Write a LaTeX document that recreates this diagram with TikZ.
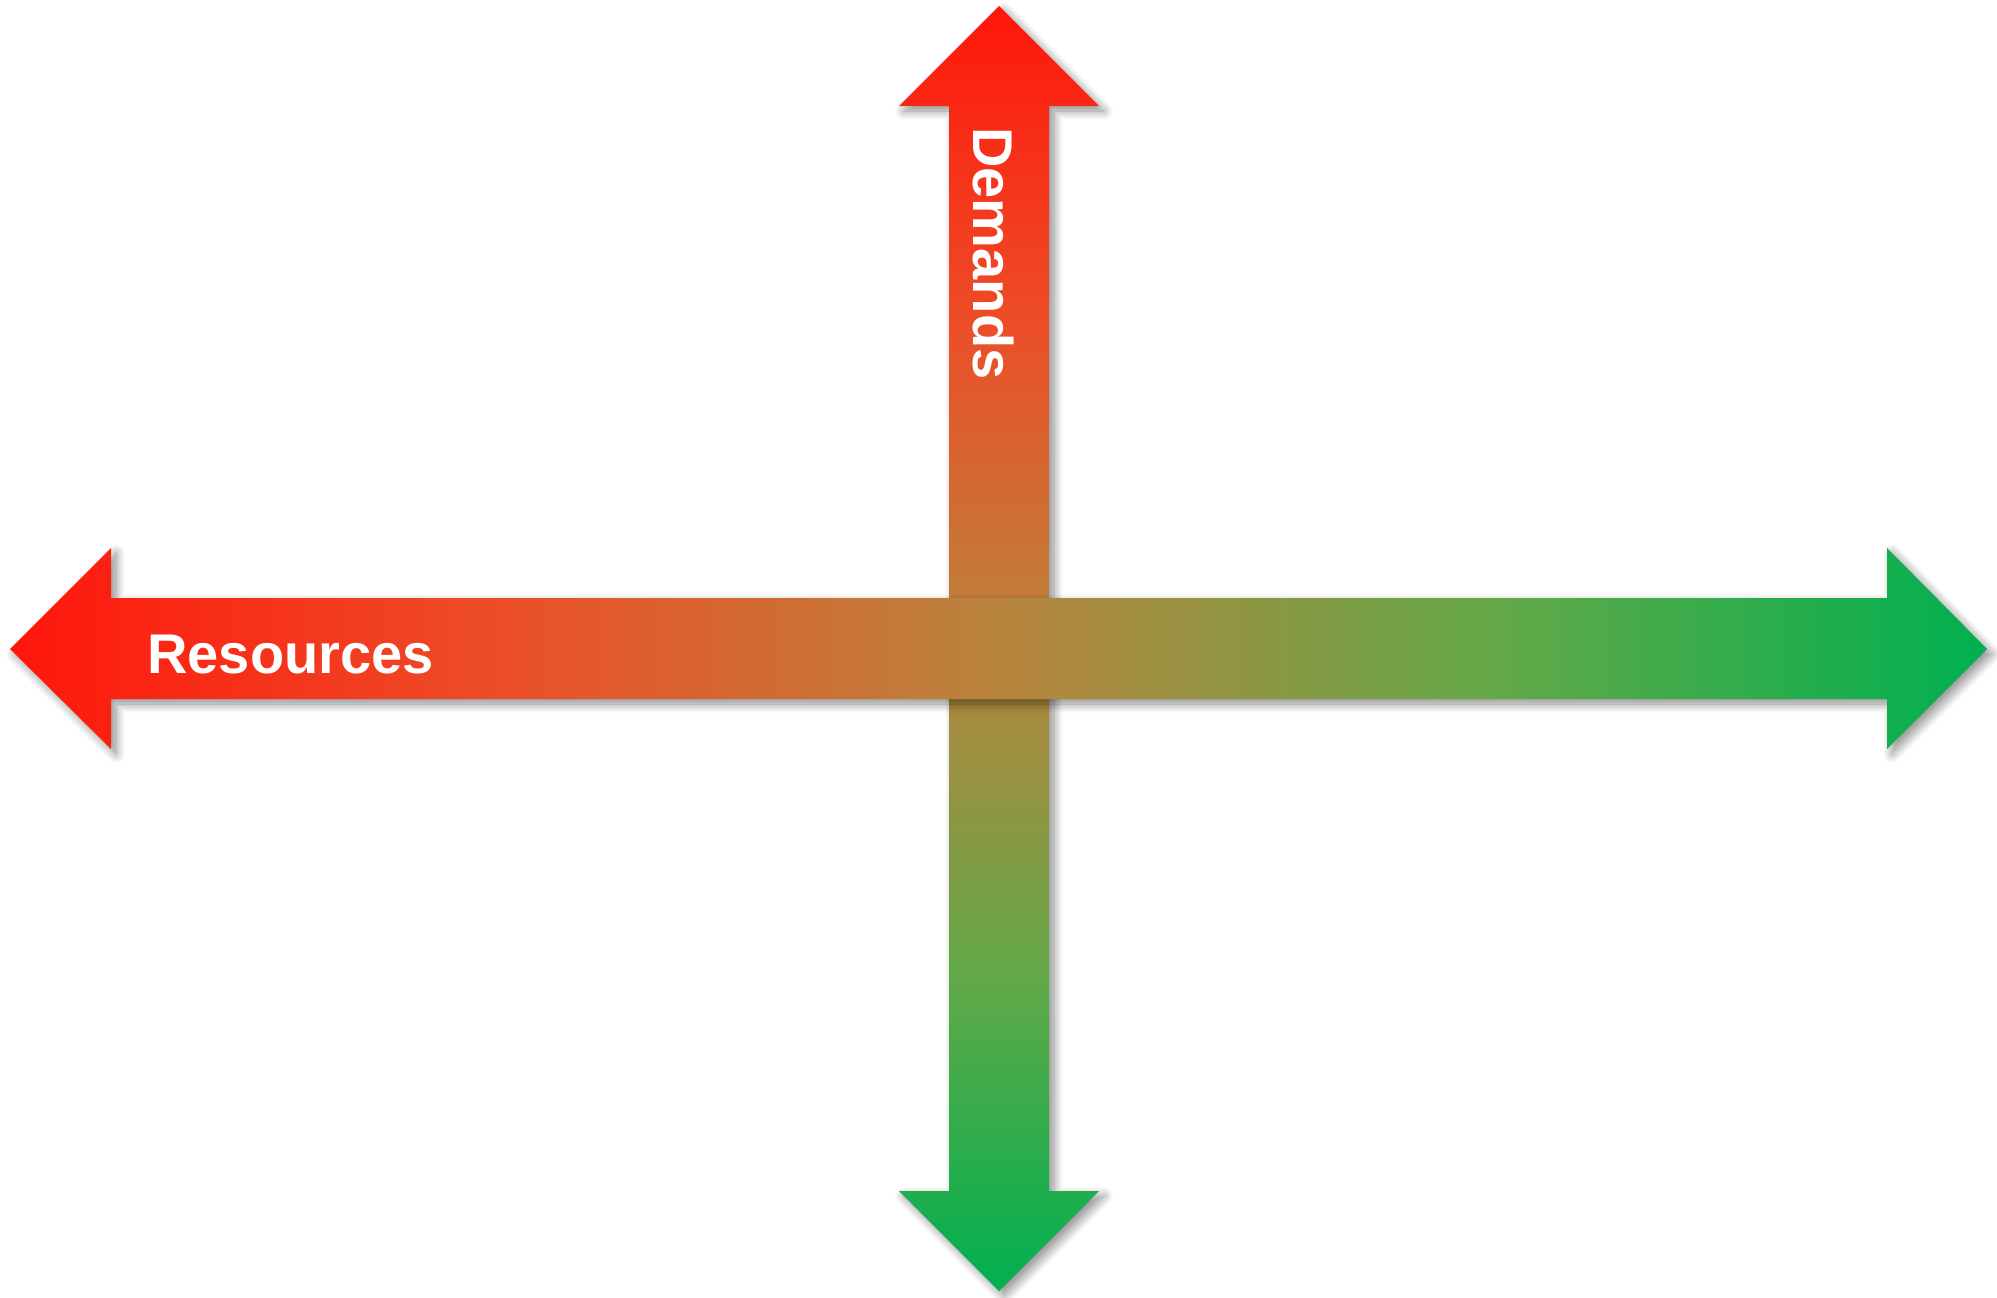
\documentclass[tikz,border=0pt]{standalone}
\usepackage{fontspec}
\setmainfont{Liberation Sans}
\usetikzlibrary{shadows.blur}
\pgfdeclarehorizontalshading{resshade}{100bp}{%
  rgb(0bp)=(1,0.086,0.047);
  rgb(25bp)=(1,0.086,0.047);
  rgb(37.5bp)=(0.925,0.306,0.157);
  rgb(50bp)=(0.725,0.518,0.243);
  rgb(62.5bp)=(0.392,0.659,0.282);
  rgb(75bp)=(0,0.69,0.314);
  rgb(100bp)=(0,0.69,0.314)}
\pgfdeclareverticalshading{demshade}{100bp}{%
  rgb(0bp)=(0,0.69,0.314);
  rgb(25bp)=(0,0.69,0.314);
  rgb(37.5bp)=(0.392,0.659,0.282);
  rgb(50bp)=(0.725,0.518,0.243);
  rgb(62.5bp)=(0.925,0.306,0.157);
  rgb(75bp)=(1,0.086,0.047);
  rgb(100bp)=(1,0.086,0.047)}
\tikzset{
  arrowshadow/.style={blur shadow={shadow xshift=2.5pt, shadow yshift=-2.5pt,
      shadow blur radius=4.5pt, shadow opacity=45, shadow blur steps=10}},
  vlabel/.style={text=white, font=\bfseries\fontsize{28}{30}\selectfont, inner sep=0pt},
}
\begin{document}
\begin{tikzpicture}[x=0.5pt, y=-0.5pt]
\useasboundingbox (0,0) rectangle (1997,1297);
% vertical arrow (Demands)
\path[shading=demshade, arrowshadow]
  (999,6) -- (1099,106) -- (1049,106) -- (1049,1191) -- (1099,1191)
  -- (999,1291) -- (899,1191) -- (949,1191) -- (949,106) -- (899,106) -- cycle;
% horizontal arrow (Resources)
\path[shading=resshade, arrowshadow]
  (10,649) -- (111,548) -- (111,598) -- (1887,598) -- (1887,548)
  -- (1987,649) -- (1887,749) -- (1887,699) -- (111,699) -- (111,749) -- cycle;
\node[vlabel, anchor=base west] (res) at (147,673) {Resources};
\node[vlabel, anchor=base west, rotate=-90] (dem) at (973,127) {Demands};
\end{tikzpicture}
\end{document}
